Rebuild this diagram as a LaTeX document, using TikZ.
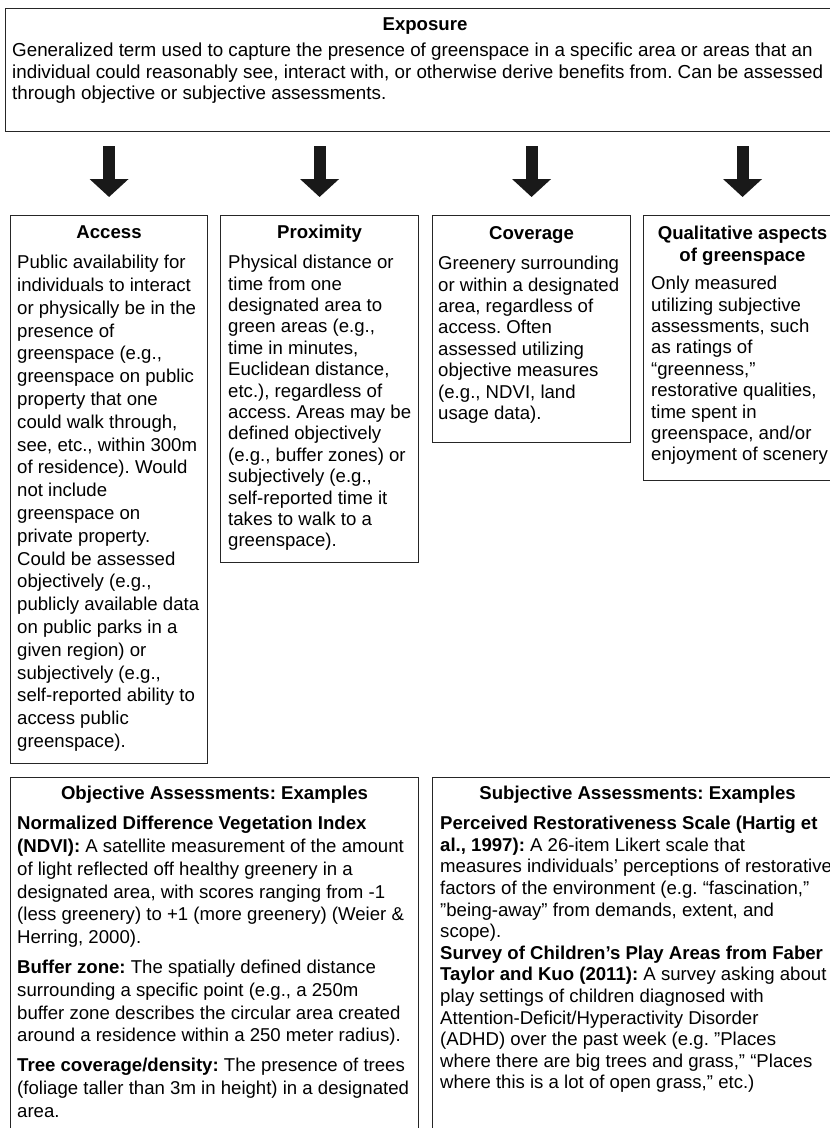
\documentclass[tikz,border=0pt]{standalone}
\usepackage{fontspec}
\setmainfont{Liberation Sans}
\usetikzlibrary{arrows.meta,calc}
\frenchspacing
\begin{document}
\begin{tikzpicture}
[x=1pt, y=-1pt, font=\fontsize{18.6}{21.4}\selectfont,
 boxed/.style={draw=black!85, line width=1.1pt, anchor=north west, inner sep=0pt},
 heading/.style={font=\fontsize{18.6}{22}\selectfont\bfseries, anchor=north, align=center, inner sep=0pt},
 bodytext/.style={anchor=north west, align=left, inner sep=0pt},
 bigarrow/.style={line width=12pt, draw=black!90, -{Triangle[width=38pt,length=18pt]}}]
\useasboundingbox (0,0) rectangle (830,1128);
\clip (0,0) rectangle (830,1128);
\node[boxed, minimum width=850, minimum height=123] (expo) at (5,8) {};
\node[boxed, minimum width=197, minimum height=548] (access) at (10,215) {};
\node[boxed, minimum width=198, minimum height=347] (prox) at (220,215) {};
\node[boxed, minimum width=198, minimum height=227] (cover) at (432,215) {};
\node[boxed, minimum width=198, minimum height=265] (qual) at (643,215) {};
\node[boxed, minimum width=408, minimum height=400] (obj) at (10,777) {};
\node[boxed, minimum width=420, minimum height=400] (subj) at (432,777) {};
\node[heading] (expohead) at ([xshift=420pt,yshift=-9pt]expo.north west) {Exposure};
\node[bodytext, font=\fontsize{18.8}{21.4}\selectfont] (expotext) at ([xshift=7pt,yshift=-35pt]expo.north west) {Generalized term used to capture the presence of greenspace in a specific area or areas that an\\
individual could reasonably see, interact with, or otherwise derive benefits from. Can be assessed\\
through objective or subjective assessments.};
\foreach \b in {access, prox, cover, qual}
  \draw[bigarrow] ($(\b.north |- expo.south)+(0,14)$) -- ($(\b.north)+(0,-18)$);
\node[heading] (accesshead) at ([yshift=-10pt]access.north) {Access};
\node[bodytext, font=\fontsize{18.6}{22.8}\selectfont] (accesstext) at ([xshift=7pt,yshift=-40pt]access.north west) {Public availability for\\
individuals to interact\\
or physically be in the\\
presence of\\
greenspace (e.g.,\\
greenspace on public\\
property that one\\
could walk through,\\
see, etc., within 300m\\
of residence). Would\\
not include\\
greenspace on\\
private property.\\
Could be assessed\\
objectively (e.g.,\\
publicly available data\\
on public parks in a\\
given region) or\\
subjectively (e.g.,\\
self-reported ability to\\
access public\\
greenspace).};
\node[heading] (proxhead) at ([yshift=-10pt]prox.north) {Proximity};
\node[bodytext] (proxtext) at ([xshift=8pt,yshift=-40pt]prox.north west) {Physical distance or\\
time from one\\
designated area to\\
green areas (e.g.,\\
time in minutes,\\
Euclidean distance,\\
etc.), regardless of\\
access. Areas may be\\
defined objectively\\
(e.g., buffer zones) or\\
subjectively (e.g.,\\
self-reported time it\\
takes to walk to a\\
greenspace).};
\node[heading] (coverhead) at ([yshift=-11pt]cover.north) {Coverage};
\node[bodytext] (covertext) at ([xshift=6pt,yshift=-41pt]cover.north west) {Greenery surrounding\\
or within a designated\\
area, regardless of\\
access. Often\\
assessed utilizing\\
objective measures\\
(e.g., NDVI, land\\
usage data).};
\node[heading] (qualhead) at ([yshift=-11pt]qual.north) {Qualitative aspects\\ of greenspace};
\node[bodytext] (qualtext) at ([xshift=8pt,yshift=-61pt]qual.north west) {Only measured\\
utilizing subjective\\
assessments, such\\
as ratings of\\
“greenness,”\\
restorative qualities,\\
time spent in\\
greenspace, and/or\\
enjoyment of scenery};
\node[heading] (objhead) at ([yshift=-9pt]obj.north) {Objective Assessments: Examples};
\node[bodytext, font=\fontsize{18.6}{22.8}\selectfont] (objtext) at ([xshift=7pt,yshift=-39pt]obj.north west) {\textbf{Normalized Difference Vegetation Index}\\
\textbf{(NDVI):} A satellite measurement of the amount\\
of light reflected off healthy greenery in a\\
designated area, with scores ranging from -1\\
(less greenery) to +1 (more greenery) (Weier \&\\
Herring, 2000).\\[7pt]
\textbf{Buffer zone:} The spatially defined distance\\
surrounding a specific point (e.g., a 250m\\
buffer zone describes the circular area created\\
around a residence within a 250 meter radius).\\[7pt]
\textbf{Tree coverage/density:} The presence of trees\\
(foliage taller than 3m in height) in a designated\\
area.};
\node[heading] (subjhead) at ([xshift=-5pt,yshift=-9pt]subj.north) {Subjective Assessments: Examples};
\node[bodytext, font=\fontsize{18.6}{21.6}\selectfont] (subjtext) at ([xshift=8pt,yshift=-39pt]subj.north west) {\textbf{Perceived Restorativeness Scale (Hartig et}\\
\textbf{al., 1997):} A 26-item Likert scale that\\
measures individuals’ perceptions of restorative\\
factors of the environment (e.g. “fascination,”\\
”being-away” from demands, extent, and\\
scope).\\
\textbf{Survey of Children’s Play Areas from Faber}\\
\textbf{Taylor and Kuo (2011):} A survey asking about\\
play settings of children diagnosed with\\
Attention-Deficit/Hyperactivity Disorder\\
(ADHD) over the past week (e.g. ”Places\\
where there are big trees and grass,” “Places\\
where this is a lot of open grass,” etc.)};
\end{tikzpicture}
\end{document}
